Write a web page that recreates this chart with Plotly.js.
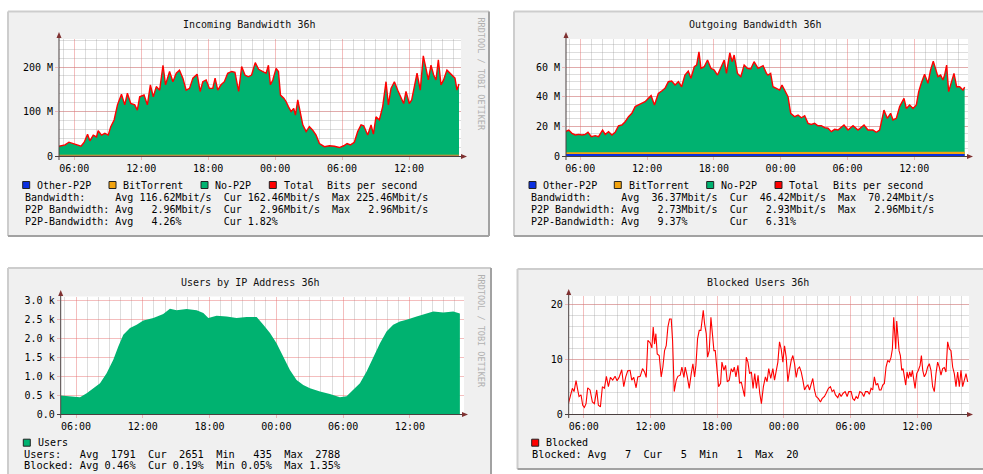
<!DOCTYPE html>
<html><head><meta charset="utf-8">
<script src="https://cdn.plot.ly/plotly-3.0.1.min.js"></script>
<style>html,body{margin:0;padding:0;background:#fff;}#chart{width:983px;height:474px;}</style>
</head><body><div id="chart"></div>
<script>
// ---------- DATA (time = clock hours from 00:00 of day 1) ----------
const inTimes = [4.63,5.17,5.52,5.91,6.21,6.60,6.89,7.19,7.40,7.70,7.99,8.14,8.44,8.74,9.04,9.27,9.57,9.87,10.23,10.52,
10.76,11.06,11.42,11.65,11.86,12.25,12.55,12.82,13.08,13.35,13.65,13.95,14.18,14.54,14.84,15.14,15.43,15.73,16.03,16.33,
16.63,17.01,17.28,17.52,17.82,18.11,18.41,18.62,18.86,19.15,19.45,19.75,20.11,20.40,20.73,21.00,21.30,21.60,21.89,22.22,
22.52,22.90,23.19,23.40,23.58,23.79,24.09,24.30,24.48,24.78,24.99,25.19,25.43,25.67,25.82,26.03,26.27,26.48,26.78,27.07,
27.37,27.67,27.97,28.42,28.87,29.31,29.76,30.15,30.45,30.75,31.10,31.40,31.70,31.94,32.30,32.60,32.81,33.04,33.34,33.64,
33.94,34.15,34.39,34.69,34.99,35.22,35.52,35.73,36.03,36.24,36.48,36.72,37.01,37.28,37.52,37.73,37.97,38.21,38.42,38.63,
38.87,39.10,39.40,39.70,39.91,40.12,40.30,40.48];
const inTotal = [22,25,31,28,25,22,31,49,34,47,43,57,47,51,47,66,81,115,139,115,
141,118,115,103,133,137,115,160,133,156,148,204,160,190,167,186,193,175,148,152,
175,184,145,167,171,152,152,175,148,160,167,186,190,188,145,201,182,178,182,210,
195,190,186,204,160,171,197,190,137,130,122,111,100,107,92,126,92,70,55,66,
58,47,28,21,23,22,19,23,28,25,31,55,70,68,47,70,49,88,81,111,
167,115,152,167,148,133,118,145,118,126,160,186,148,225,197,171,204,182,171,216,
160,171,193,186,182,175,148,162];
const inP2PTimes = [4.63,40.48];
const inP2P = [2.96,2.96];        // BitTorrent + Other-P2P (Mbit/s)
const inOther = [0.8,0.8];

const outTimes = [4.66,4.96,5.25,5.55,5.85,6.15,6.45,6.69,6.99,7.34,7.64,8.00,8.24,8.54,8.84,9.13,9.43,9.73,10.03,10.33,
10.63,10.93,11.22,11.52,11.82,12.12,12.36,12.66,13.01,13.31,13.61,13.91,14.21,14.51,14.81,15.10,15.40,15.70,15.94,16.24,
16.45,16.66,16.84,17.13,17.43,17.73,18.03,18.33,18.63,18.93,19.13,19.43,19.64,19.82,20.12,20.42,20.72,21.01,21.31,21.61,
21.97,22.42,22.72,22.86,23.10,23.31,23.61,23.91,24.12,24.36,24.66,24.90,25.26,25.56,25.86,26.16,26.46,26.75,27.05,27.35,
27.65,27.95,28.25,28.55,28.85,29.15,29.69,30.05,30.50,30.95,31.49,31.84,32.29,32.59,32.89,33.28,33.58,33.88,34.09,34.39,
34.69,35.08,35.29,35.59,35.89,36.19,36.40,36.63,36.93,37.23,37.47,37.71,37.89,38.13,38.37,38.58,38.73,38.91,39.09,39.33,
39.57,39.81,40.08,40.38,40.53];
const outTotal = [16.4,17.5,15.3,14.2,14.6,14.2,14.6,16.0,13.0,13.7,13.0,17.5,14.6,16.4,14.2,16.0,20.4,20.9,23.1,26.5,
28.8,33.3,34.4,35.5,36.6,38.9,40.7,34.4,42.2,43.8,45.6,50.1,50.6,47.9,50.1,46.7,54.6,57.3,52.4,60.2,
61.3,70.2,59.1,60.2,64.7,59.1,58.0,54.6,59.1,64.7,55.7,69.6,63.6,68.1,55.7,53.5,61.3,59.1,58.7,63.6,
59.1,60.9,55.7,54.6,55.7,46.7,45.6,44.5,47.9,44.5,40.0,28.8,26.5,27.6,25.8,27.2,22.0,21.3,22.0,20.4,
20.4,19.1,18.7,16.4,18.0,17.5,20.9,17.5,20.4,17.5,20.9,17.5,17.5,16.0,17.5,31.0,25.4,28.8,24.3,25.4,
33.3,38.9,32.1,34.4,32.1,34.4,43.4,49.0,55.1,49.0,58.0,64.0,59.1,53.5,54.6,51.2,54.6,61.3,43.4,50.1,
55.7,46.7,46.7,44.5,46.4];
const outP2PTimes = [4.72,22.0,40.53];
const outP2P = [2.6,2.9,2.93];    // BitTorrent + Other-P2P (Mbit/s)
const outOther = [1.3,1.3,1.3];

const userTimes = [4.62,5.16,5.61,6.36,6.96,7.56,8.16,8.75,9.35,9.80,10.25,10.85,11.45,12.05,12.95,13.84,14.44,15.04,15.94,16.84,
17.44,17.89,18.63,19.53,20.43,21.33,22.23,22.83,23.43,24.02,24.62,25.22,25.82,26.42,27.02,27.92,28.81,29.71,30.31,30.91,
31.51,32.11,32.71,33.31,33.90,34.50,35.10,35.70,36.60,37.50,38.10,39.00,39.90,40.49];
const users = [485,476,450,440,547,679,811,1076,1429,1781,2090,2266,2354,2469,2531,2637,2775,2734,2769,2734,
2663,2531,2593,2575,2531,2557,2557,2354,2134,1869,1517,1164,899,767,679,591,529,440,470,635,
811,1120,1517,1869,2178,2354,2443,2487,2575,2663,2707,2681,2707,2651];

const blkTimes = [4.62,4.77,4.98,5.13,5.31,5.46,5.58,5.76,5.91,6.06,6.21,6.36,6.57,6.78,6.96,7.17,7.32,7.50,7.68,7.86,
8.04,8.22,8.40,8.61,8.82,9.00,9.18,9.42,9.60,9.78,9.96,10.17,10.32,10.50,10.71,10.86,11.08,11.29,11.47,11.62,
11.77,11.98,12.13,12.25,12.37,12.49,12.61,12.79,12.97,13.12,13.27,13.42,13.57,13.72,13.87,13.99,14.14,14.32,14.47,14.68,
14.83,15.01,15.13,15.31,15.49,15.67,15.82,15.97,16.09,16.24,16.39,16.54,16.63,16.75,16.87,17.02,17.14,17.29,17.44,17.56,
17.71,17.83,17.98,18.13,18.31,18.43,18.61,18.76,18.91,19.09,19.27,19.42,19.54,19.69,19.87,20.02,20.17,20.32,20.47,20.62,
20.77,20.92,21.08,21.23,21.38,21.53,21.68,21.83,21.98,22.16,22.34,22.49,22.64,22.82,
23.01,23.16,23.31,23.46,23.61,23.76,23.91,24.06,24.21,24.36,24.51,24.66,24.81,24.96,25.11,25.26,25.41,25.56,25.71,25.86,
26.01,26.16,26.31,26.46,26.60,26.75,26.90,27.11,27.29,27.44,27.65,27.80,28.01,28.19,28.34,28.49,28.64,28.85,29.00,29.15,
29.33,29.51,29.69,29.84,30.05,30.20,30.35,30.50,30.65,30.83,31.01,31.19,31.34,31.54,31.69,31.84,31.99,32.14,32.29,32.44,
32.59,32.74,32.89,33.04,33.19,33.34,33.49,33.64,33.76,33.88,33.97,34.06,34.15,34.24,34.36,34.48,34.60,34.72,34.84,34.96,
35.08,35.20,35.32,35.44,35.56,35.68,35.80,35.95,36.10,36.25,36.37,36.49,36.63,36.78,36.93,37.08,37.23,37.38,37.53,37.68,
37.83,37.98,38.13,38.28,38.43,38.58,38.73,38.88,39.03,39.18,39.33,39.48,39.63,39.78,39.93,40.08,40.23,40.38,40.53];
const blocked = [1.9,3.2,4.7,4.1,6.1,4.4,3.2,3.5,1.6,1.2,1.9,4.8,4.4,2.2,1.9,4.4,1.6,1.3,5.0,4.7,
6.9,5.0,6.7,6.2,6.9,6.1,6.7,8.1,5.0,6.8,7.9,8.0,6.2,6.7,4.8,6.8,6.9,8.3,7.7,6.7,
13.5,13.0,12.1,15.9,12.8,14.7,11.0,10.7,6.8,8.6,11.6,12.5,15.9,17.4,17.4,13.5,4.1,6.2,6.9,7.1,
8.6,6.7,8.6,6.9,4.7,7.4,9.2,6.8,8.9,13.8,15.3,15.3,17.1,19.0,16.5,14.7,10.4,11.6,17.7,14.1,
11.6,11.6,8.6,5.0,5.6,9.5,8.0,8.9,5.9,6.2,8.3,7.7,8.6,6.8,8.9,5.6,5.9,4.4,3.2,10.4,
9.5,7.4,7.7,4.7,7.4,4.7,7.1,3.8,1.9,5.0,6.8,5.9,8.3,6.5,
8.3,6.2,8.0,9.5,13.2,11.9,9.5,12.5,10.4,5.9,8.0,9.8,10.7,9.2,6.7,8.3,8.6,7.7,6.2,4.4,
5.0,5.3,4.4,5.3,6.5,4.4,3.2,2.8,2.2,2.8,3.2,3.8,4.7,5.0,4.1,4.4,3.5,3.0,3.8,3.2,
3.8,4.1,3.2,4.1,4.1,2.8,2.5,3.2,2.8,4.1,3.9,3.2,4.1,4.1,3.6,4.7,4.4,6.8,5.3,5.6,
4.4,4.4,5.3,5.6,8.6,9.8,9.5,10.4,11.9,17.7,14.7,11.9,17.0,14.1,11.6,10.7,8.0,8.3,6.8,5.3,
7.7,6.5,7.7,6.8,8.0,6.5,4.7,7.4,8.0,8.9,10.7,8.0,6.8,7.4,8.6,9.2,8.0,5.0,4.1,7.4,
9.5,8.6,7.1,8.3,8.5,7.7,13.2,11.9,11.6,8.6,7.4,5.0,7.7,5.0,8.0,5.0,6.2,7.4,5.9];

const bwTickVals = [0,100,200], bwTickText = ['0','100 M','200 M'];
const outTickVals = [0,20,40,60], outTickText = ['0','20 M','40 M','60 M'];
const userTickVals = [0,500,1000,1500,2000,2500,3000];
const userTickText = ['0.0','0.5 k','1.0 k','1.5 k','2.0 k','2.5 k','3.0 k'];
const blkTickVals = [0,10,20], blkTickText = ['0','10','20'];

const titles = ['Incoming Bandwidth 36h','Outgoing Bandwidth 36h','Users by IP Address 36h','Blocked Users 36h'];
const bwLegend = ['Other-P2P','BitTorrent','No-P2P','Total','Bits per second'];
const inStats = [
 'Bandwidth:     Avg 116.62Mbit/s  Cur 162.46Mbit/s  Max 225.46Mbit/s',
 'P2P Bandwidth: Avg   2.96Mbit/s  Cur   2.96Mbit/s  Max   2.96Mbit/s',
 'P2P-Bandwidth: Avg   4.26%       Cur 1.82%'];
const outStats = [
 'Bandwidth:     Avg  36.37Mbit/s  Cur  46.42Mbit/s  Max  70.24Mbit/s',
 'P2P Bandwidth: Avg   2.73Mbit/s  Cur   2.93Mbit/s  Max   2.96Mbit/s',
 'P2P-Bandwidth: Avg   9.37%       Cur   6.31%'];
const userStats = [
 'Users:   Avg  1791  Cur  2651  Min   435  Max  2788',
 'Blocked: Avg 0.46%  Cur 0.19%  Min 0.05%  Max 1.35%'];
const blkStats = ['Blocked: Avg   7  Cur   5  Min   1  Max  20'];

// ---------- helpers ----------
const W = 983, H = 474;
const X = v => v / W, Y = v => 1 - v / H;
const BASE = Date.UTC(2011, 0, 1);
const d = h => new Date(BASE + h * 3600000).toISOString().slice(0, 19).replace('T', ' ');
const MONO = 'DejaVu Sans Mono, monospace';
const GREEN = '#00b270', RED = '#ff0000', ORANGE = '#f2a30f', BLUE = '#0a2fe0';
const MAJ = 'rgba(230,110,110,0.45)', MIN = 'rgba(150,150,150,0.32)';
const nb = s => s.replace(/ /g, '\u00a0');

function xa(x0, x1, r0, r1, anchor) {
  return {domain: [X(x0), X(x1)], anchor, type: 'date', range: [d(r0), d(r1)],
    tickformat: '%H:%M', tick0: d(0), dtick: 6 * 3600000,
    showgrid: true, gridcolor: MAJ, gridwidth: 1,
    minor: {tick0: d(0), dtick: 3600000, showgrid: true, gridcolor: MIN, gridwidth: 1},
    ticks: 'outside', ticklen: 3, tickcolor: MAJ, showline: false, zeroline: false,
    tickfont: {family: MONO, size: 10, color: '#000'}, fixedrange: true};
}
function ya(y0, y1, range, vals, texts, minorDt, anchor) {
  const a = {domain: [Y(y1), Y(y0)], anchor, range, tickmode: 'array', tickvals: vals, ticktext: texts,
    showgrid: true, gridcolor: MAJ, gridwidth: 1, ticks: 'outside', ticklen: 3, tickcolor: MAJ,
    showline: false, zeroline: false, tickfont: {family: MONO, size: 10, color: '#000'}, fixedrange: true};
  if (minorDt) a.minor = {tickmode: 'linear', tick0: 0, dtick: minorDt, showgrid: true, gridcolor: MIN, gridwidth: 1};
  return a;
}

const data = [];
function area(xs, ys, color, xr, yr) {
  data.push({x: xs.map(d), y: ys, xaxis: xr, yaxis: yr, type: 'scatter', mode: 'lines',
    fill: 'tozeroy', fillcolor: color, line: {width: 0, color: color}, hoverinfo: 'skip'});
}
function line(xs, ys, color, w, xr, yr) {
  data.push({x: xs.map(d), y: ys, xaxis: xr, yaxis: yr, type: 'scatter', mode: 'lines',
    line: {width: w, color: color}, hoverinfo: 'skip'});
}
area(inTimes, inTotal, GREEN, 'x', 'y');
area(inP2PTimes, inP2P, ORANGE, 'x', 'y');
area(inP2PTimes, inOther, BLUE, 'x', 'y');
line(inTimes, inTotal, RED, 1.4, 'x', 'y');
area(outTimes, outTotal, GREEN, 'x2', 'y2');
area(outP2PTimes, outP2P, ORANGE, 'x2', 'y2');
area(outP2PTimes, outOther, BLUE, 'x2', 'y2');
line(outTimes, outTotal, RED, 1.4, 'x2', 'y2');
area(userTimes, users, GREEN, 'x3', 'y3');
line(blkTimes, blocked, RED, 1.1, 'x4', 'y4');

// ---------- decorations ----------
const shapes = [];
function panel(x0, y0, x1, y1) {
  shapes.push({type: 'rect', xref: 'paper', yref: 'paper', x0: X(x0), x1: X(x1), y0: Y(y1), y1: Y(y0),
    fillcolor: '#f0f0f0', line: {width: 0}, layer: 'below'});
  const L = (a, b, c, e, col) => shapes.push({type: 'line', xref: 'paper', yref: 'paper',
    x0: X(a), y0: Y(b), x1: X(c), y1: Y(e), line: {color: col, width: 2}, layer: 'below'});
  L(x0, y0, x1, y0, '#cdcdcd'); L(x0, y0, x0, y1, '#cdcdcd');
  L(x0, y1, x1, y1, '#a2a2a2'); L(x1, y0, x1, y1, '#a2a2a2');
}
function canvas(x0, y0, x1, y1) {
  shapes.push({type: 'rect', xref: 'paper', yref: 'paper', x0: X(x0), x1: X(x1), y0: Y(y1), y1: Y(y0),
    fillcolor: '#ffffff', line: {width: 0}, layer: 'below'});
}
function axes(ax, top, bottom, xl, xr) {
  const ln = (a, b, c, e) => shapes.push({type: 'line', xref: 'paper', yref: 'paper',
    x0: X(a), y0: Y(b), x1: X(c), y1: Y(e), line: {color: '#4a4040', width: 1}});
  ln(ax, bottom + 4, ax, top);
  ln(xl, bottom + 0.5, xr, bottom + 0.5);
  const tri = pts => 'M' + pts.map(p => X(p[0]) + ',' + Y(p[1])).join('L') + 'Z';
  shapes.push({type: 'path', xref: 'paper', yref: 'paper', path: tri([[ax - 2.5, top + 1], [ax + 2.5, top + 1], [ax, top - 5]]),
    fillcolor: '#7f3131', line: {width: 0}});
  shapes.push({type: 'path', xref: 'paper', yref: 'paper', path: tri([[xr - 1, bottom - 2], [xr - 1, bottom + 3], [xr + 5, bottom + 0.5]]),
    fillcolor: '#7f3131', line: {width: 0}});
}
panel(8, 11.5, 489, 236); panel(514, 11.5, 992, 236);
panel(8, 268, 491, 482); panel(517.5, 269, 992, 469);
canvas(59, 39, 461, 156); canvas(566, 39, 968, 156);
canvas(60.7, 296.5, 464, 414); canvas(568.7, 296, 969, 414);
axes(59, 37, 156, 55, 462);
axes(566, 37, 156, 562, 968);
axes(60.7, 295, 414, 57, 463);
axes(568.7, 294, 414, 565, 968);

const annotations = [];
function txt(s, x, y, size, color, anchor) {
  annotations.push({text: nb(s), xref: 'paper', yref: 'paper', x: X(x), y: Y(y), xanchor: anchor || 'left',
    yanchor: 'middle', showarrow: false, font: {family: MONO, size: size, color: color || '#000'}});
}
function box(x, y, color) {
  shapes.push({type: 'rect', xref: 'paper', yref: 'paper', x0: X(x), x1: X(x + 7), y0: Y(y + 3.5), y1: Y(y - 3.5),
    fillcolor: color, line: {color: '#222', width: 1}});
}
// titles
txt(titles[0], 249, 24.5, 10, '#111', 'center');
txt(titles[1], 755, 24.5, 10, '#111', 'center');
txt(titles[2], 250, 282, 10, '#111', 'center');
txt(titles[3], 758, 282, 10, '#111', 'center');
// legends panel 1
[[22.7, BLUE, 35], [109, ORANGE, 120.7], [201, GREEN, 212.7], [269.3, RED, 281.7]].forEach((p, i) => {
  box(p[0], 185, p[1]); txt(bwLegend[i], p[2], 185, 10);
});
txt(bwLegend[4], 325, 185, 10);
inStats.forEach((s, i) => txt(s, 22.7, [197.3, 209.3, 221.5][i], 10));
// legends panel 2
[[529, BLUE, 540.7], [614.3, ORANGE, 626.7], [706.7, GREEN, 718.7], [775, RED, 787.3]].forEach((p, i) => {
  box(p[0], 185, p[1]); txt(bwLegend[i], p[2], 185, 10);
});
txt(bwLegend[4], 830.7, 185, 10);
outStats.forEach((s, i) => txt(s, 529, [197.3, 209.5, 221.3][i], 10));
// legend panel 3
box(23.3, 442.7, GREEN); txt('Users', 36, 442.7, 10);
userStats.forEach((s, i) => txt(s, 21.7, [454, 464.7][i], 10.3));
// legend panel 4
box(531.7, 442.7, RED); txt('Blocked', 544, 442.7, 10);
txt(blkStats[0], 530, 454.3, 10.3);
// watermarks
annotations.push({text: nb('RRDTOOL / TOBI OETIKER'), xref: 'paper', yref: 'paper', x: X(480.5), y: Y(74),
  xanchor: 'center', yanchor: 'middle', textangle: 90, showarrow: false, font: {family: MONO, size: 8.5, color: '#b0b0b0'}});
annotations.push({text: nb('RRDTOOL / TOBI OETIKER'), xref: 'paper', yref: 'paper', x: X(480.5), y: Y(331),
  xanchor: 'center', yanchor: 'middle', textangle: 90, showarrow: false, font: {family: MONO, size: 8.5, color: '#b0b0b0'}});

const layout = {
  width: W, height: H, margin: {l: 0, r: 0, t: 0, b: 0}, showlegend: false,
  paper_bgcolor: '#ffffff', plot_bgcolor: '#ffffff',
  xaxis: xa(59, 461, 4.63, 40.66, 'y'),
  yaxis: ya(39, 156, [0, 263], bwTickVals, bwTickText, 20, 'x'),
  xaxis2: xa(566, 968, 4.715, 40.83, 'y2'),
  yaxis2: ya(39, 156, [0, 78.9], outTickVals, outTickText, 5, 'x2'),
  xaxis3: xa(60.7, 464, 4.625, 40.86, 'y3'),
  yaxis3: ya(296.5, 414, [0, 3100], userTickVals, userTickText, 0, 'x3'),
  xaxis4: xa(568.7, 969, 4.65, 40.65, 'y4'),
  yaxis4: ya(296, 414, [0, 21.6], blkTickVals, blkTickText, 2, 'x4'),
  shapes, annotations
};
Plotly.newPlot('chart', data, layout, {staticPlot: true, displayModeBar: false});
</script></body></html>
